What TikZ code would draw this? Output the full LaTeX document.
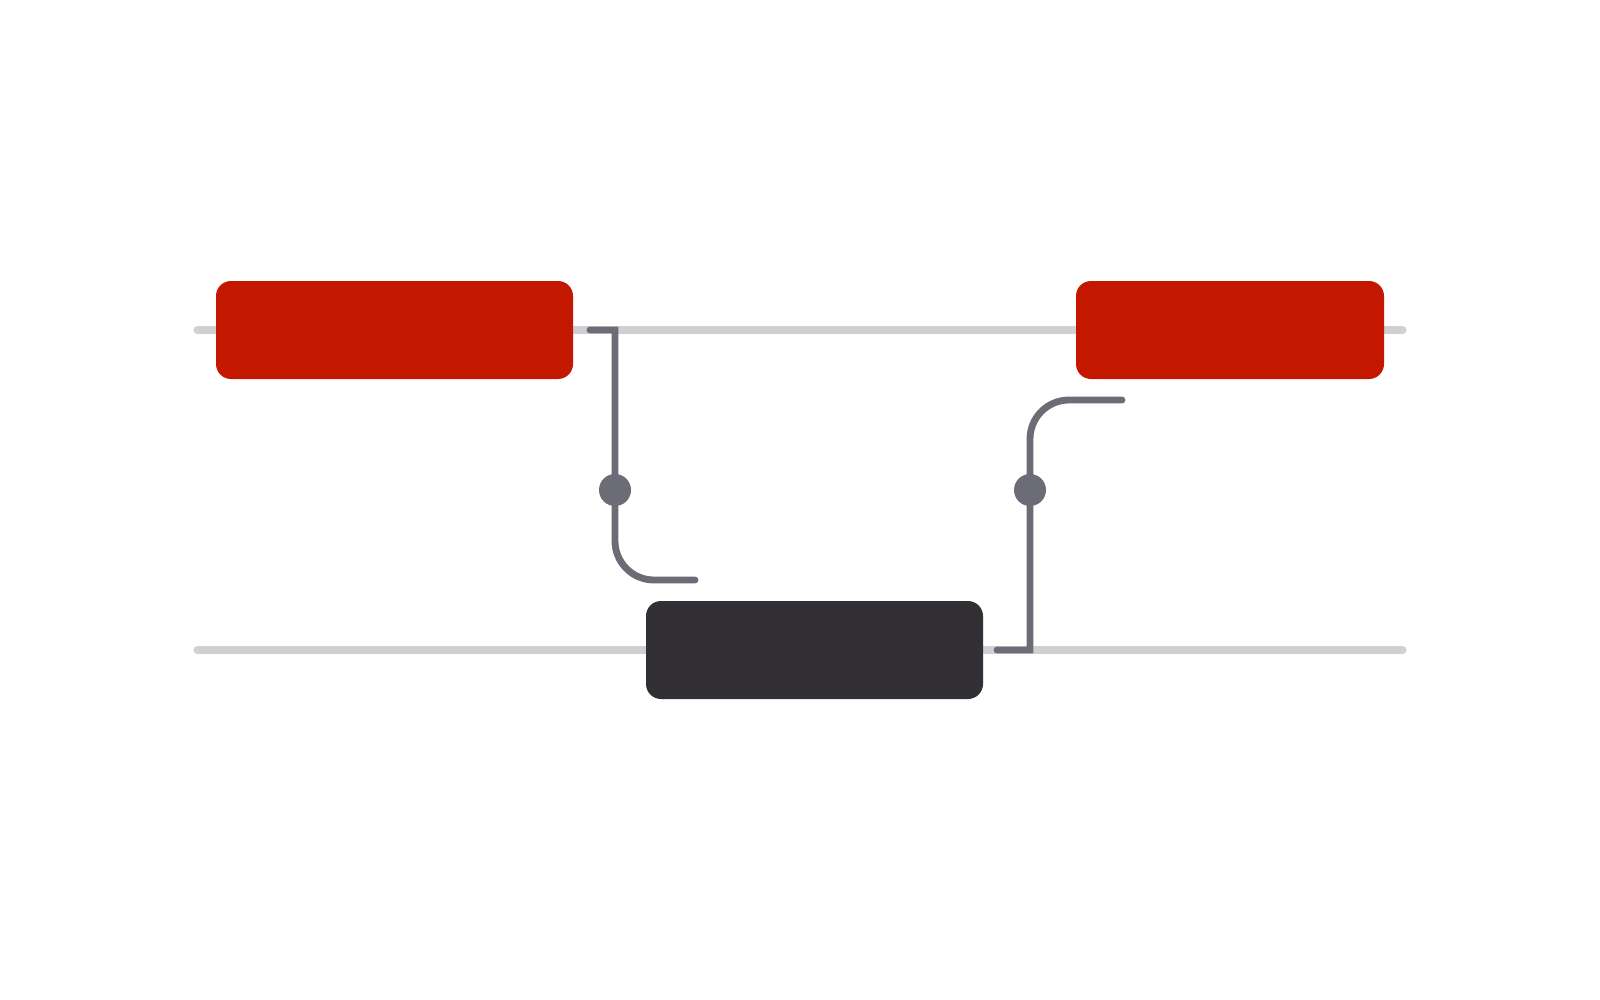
\documentclass[tikz,border=0pt]{standalone}
\usepackage{tikz}
\usetikzlibrary{positioning}
\definecolor{lanegray}{RGB}{208,207,210}
\definecolor{sigred}{RGB}{196,23,0}
\definecolor{sigdark}{RGB}{50,48,53}
\definecolor{wiregray}{RGB}{107,108,117}
\tikzstyle{lane} = [line width=4pt, line cap=round, color=lanegray]
\tikzstyle{redbox} = [rectangle, rounded corners=0.3cm, minimum height=1.96cm, inner sep=0pt, fill=sigred]
\tikzstyle{darkbox} = [rectangle, rounded corners=0.3cm, minimum height=1.96cm, inner sep=0pt, fill=sigdark]
\tikzstyle{wire} = [line width=3.9pt, line cap=round, color=wiregray]
\tikzstyle{dot} = [circle, minimum size=0.64cm, inner sep=0pt, fill=wiregray]
\begin{document}
\begin{tikzpicture}
\fill[white] (0,0) rectangle (32,-20);
\useasboundingbox (0,0) rectangle (32,-20);

% Lanes
\coordinate (topa) at (3.94,-6.6);
\coordinate (topb) at (28.06,-6.6);
\coordinate (bota) at (3.94,-13);
\coordinate (botb) at (28.06,-13);
\draw[lane] (topa) -- (topb);
\draw[lane] (bota) -- (botb);

% Boxes
\node[redbox, minimum width=7.14cm] (leftsig) at (7.89,-6.6) {};
\node[redbox, minimum width=6.16cm] (rightsig) at (24.6,-6.6) {};
\node[darkbox, minimum width=6.74cm] (lower) at (16.29,-13) {};

% Wires
\coordinate (wa1) at (11.8,-6.6);
\coordinate (wa2) at (12.3,-6.6);
\coordinate (wa3) at (12.3,-11.6);
\coordinate (wa4) at (13.9,-11.6);
\draw[wire] (wa1) -- (wa2) [rounded corners=0.78cm] -- (wa3) -- (wa4);
\coordinate (wb1) at (19.94,-13);
\coordinate (wb2) at (20.6,-13);
\coordinate (wb3) at (20.6,-8);
\coordinate (wb4) at (22.44,-8);
\draw[wire] (wb1) -- (wb2) [rounded corners=0.78cm] -- (wb3) -- (wb4);

% Dots
\node[dot] (dota) at (12.3,-9.8) {};
\node[dot] (dotb) at (20.6,-9.8) {};
\end{tikzpicture}
\end{document}
